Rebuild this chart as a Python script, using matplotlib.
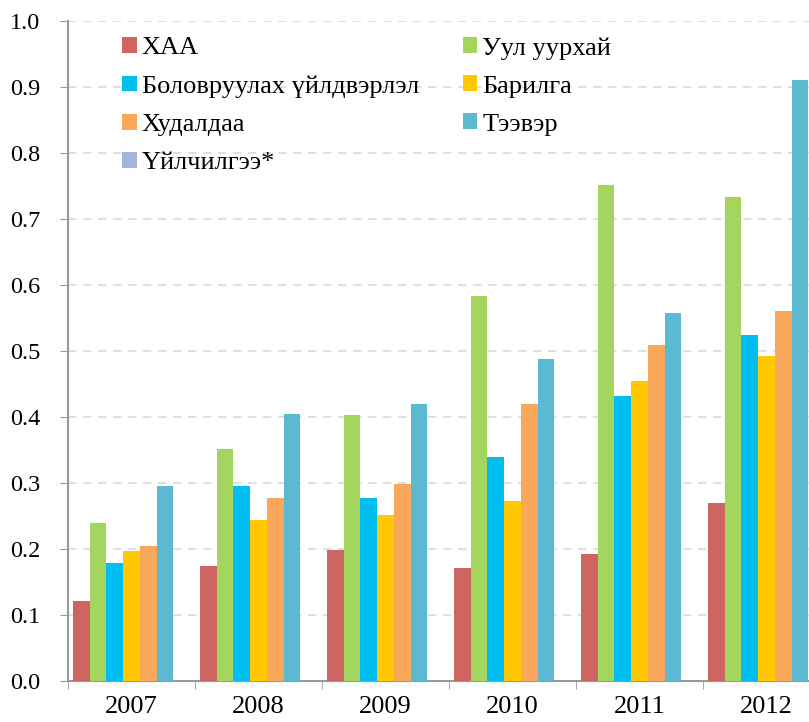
import numpy as np
import matplotlib.pyplot as plt
from matplotlib.patches import Patch

# Салбаруудын үзүүлэлт, он бүрээр
years = ['2007', '2008', '2009', '2010', '2011', '2012']
sectors = ['ХАА', 'Уул уурхай', 'Боловруулах үйлдвэрлэл', 'Барилга',
           'Худалдаа', 'Тээвэр', 'Үйлчилгээ*']
haa = [0.121, 0.174, 0.198, 0.171, 0.193, 0.270]
uul = [0.239, 0.352, 0.403, 0.584, 0.752, 0.733]
bolov = [0.179, 0.295, 0.277, 0.340, 0.432, 0.525]
barilga = [0.197, 0.244, 0.252, 0.272, 0.455, 0.493]
hudaldaa = [0.205, 0.277, 0.298, 0.420, 0.509, 0.560]
teever = [0.295, 0.405, 0.420, 0.488, 0.557, 0.910]
uilchilgee = [0, 0, 0, 0, 0, 0]

series = [haa, uul, bolov, barilga, hudaldaa, teever, uilchilgee]
colors = ['#CD6660', '#A3D55F', '#00BDF2', '#FFC800', '#F9A75A', '#5BB9D1', '#A3B6DA']

plt.rcParams['font.family'] = ['Liberation Serif', 'DejaVu Serif']

fig = plt.figure(figsize=(8.09, 7.22), dpi=100)
ax = fig.add_axes([68 / 809, 41 / 722, 762 / 809, 660 / 722])

x = np.arange(len(years))
n = len(series)
w = 0.92 / n
for i, (vals, c) in enumerate(zip(series, colors)):
    ax.bar(x - 0.46 + w * (i + 0.5), vals, width=w, color=c, zorder=3)

ax.set_xlim(-0.5, len(years) - 0.5)
ax.set_ylim(0, 1.0)
ax.set_yticks(np.arange(0, 1.01, 0.1))
ax.set_yticklabels([f'{v:.1f}' for v in np.arange(0, 1.01, 0.1)], fontsize=17.5)
ax.set_xticks(x)
ax.set_xticklabels(years, fontsize=19)
ax.set_xticks(np.arange(-0.5, len(years)), minor=True)
ax.tick_params(axis='x', which='major', length=0, pad=11)
ax.tick_params(axis='x', which='minor', length=6, color='#999999')
ax.tick_params(axis='y', length=6, color='#999999', pad=14)

ax.yaxis.grid(True, linestyle=(0, (5, 4)), color='#D9D9D9', linewidth=1.2, zorder=0)
for s in ['top', 'right']:
    ax.spines[s].set_visible(False)
for s in ['left', 'bottom']:
    ax.spines[s].set_color('#999999')
    ax.spines[s].set_linewidth(1.5)

# Хоёр баганатай тайлбар
order = [0, 2, 4, 6, 1, 3, 5]
handles = [Patch(facecolor=colors[i], label=sectors[i]) for i in order]
ax.legend(handles=handles, ncol=2, loc='upper left',
          bbox_to_anchor=((122 - 68) / 762, 1 - (37 - 21) / 660),
          frameon=False, fontsize=19, borderpad=0, borderaxespad=0,
          handlelength=0.55, handleheight=0.55, handletextpad=0.2,
          columnspacing=1.65, labelspacing=0.6)

fig.savefig('out.png', dpi=100)
